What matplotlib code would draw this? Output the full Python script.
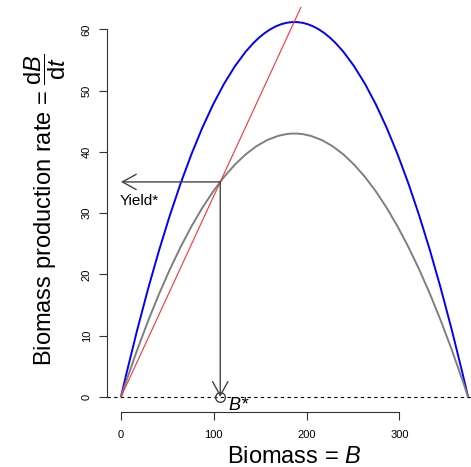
import matplotlib
matplotlib.use('agg')
import matplotlib.pyplot as plt
from matplotlib.path import Path
from matplotlib.patches import PathPatch

plt.rcParams['font.family'] = ['Liberation Sans', 'DejaVu Sans']
plt.rcParams['mathtext.fontset'] = 'custom'
plt.rcParams['mathtext.rm'] = 'Liberation Sans'
plt.rcParams['mathtext.it'] = 'Liberation Sans:italic'

# values
carrying_capacity = 374      # where both curves return to zero
peak_high = 61.2             # blue curve maximum
peak_low = 43.0              # gray curve maximum
harvest_x = [0, 200]
harvest_y = [0, 65.6]
b_star = 107
yield_star = 35.1

fig = plt.figure(figsize=(4.71, 4.67), dpi=100)
ax = fig.add_axes([107 / 471, 55 / 467, 375 / 471, 405 / 467])

ax.axhline(0, color='black', lw=0.8, ls=(0, (3, 3)))


def parabola(peak, color):
    # a parabola is exactly a quadratic bezier with control point at 2*peak
    K = carrying_capacity
    path = Path([(0, 0), (K / 2, 2 * peak), (K, 0)],
                [Path.MOVETO, Path.CURVE3, Path.CURVE3])
    ax.add_patch(PathPatch(path, fill=False, edgecolor=color, lw=1.4))


parabola(peak_high, 'blue')
parabola(peak_low, '#7f7f7f')
ax.plot(harvest_x, harvest_y, color='#ff3030', lw=0.8)

arrow = dict(arrowstyle='->,head_length=1.0,head_width=0.55', color='#444444',
             lw=1.0, shrinkA=0, shrinkB=0)
ax.annotate('', xy=(0, yield_star), xytext=(b_star, yield_star), arrowprops=arrow)
ax.annotate('', xy=(b_star, 0), xytext=(b_star, yield_star), arrowprops=arrow)
ax.plot([b_star], [0], 'o', mfc='none', mec='#333333', ms=7, mew=0.9, clip_on=False)

ax.text(-1, 32.0, 'Yield*', fontsize=11, ha='left', va='center')
ax.text(b_star + 8, -1.4, r'$B$*', fontsize=13, ha='left', va='center',
        style='italic')

ax.set_xlim(-15, 389)
ax.set_ylim(-2.45, 63.65)

for s in ['top', 'right']:
    ax.spines[s].set_visible(False)
ax.spines['left'].set_bounds(0, 60)
ax.spines['bottom'].set_bounds(0, 300)
for s in ['left', 'bottom']:
    ax.spines[s].set_color('#333333')
    ax.spines[s].set_linewidth(0.8)

ax.set_xticks([0, 100, 200, 300])
ax.set_yticks([0, 10, 20, 30, 40, 50, 60])
ax.tick_params(direction='out', length=6, width=0.8, color='#333333',
               labelsize=8, pad=5)
ax.tick_params(axis='x', pad=7)
plt.setp(ax.get_yticklabels(), rotation=90, va='center')

ax.set_xlabel(r'Biomass = $B$', fontsize=17, labelpad=4)
ax.set_ylabel(r'Biomass production rate = $\dfrac{\mathrm{d}B}{\mathrm{d}t}$',
              fontsize=17, labelpad=10)

plt.savefig('out.png', dpi=100)
